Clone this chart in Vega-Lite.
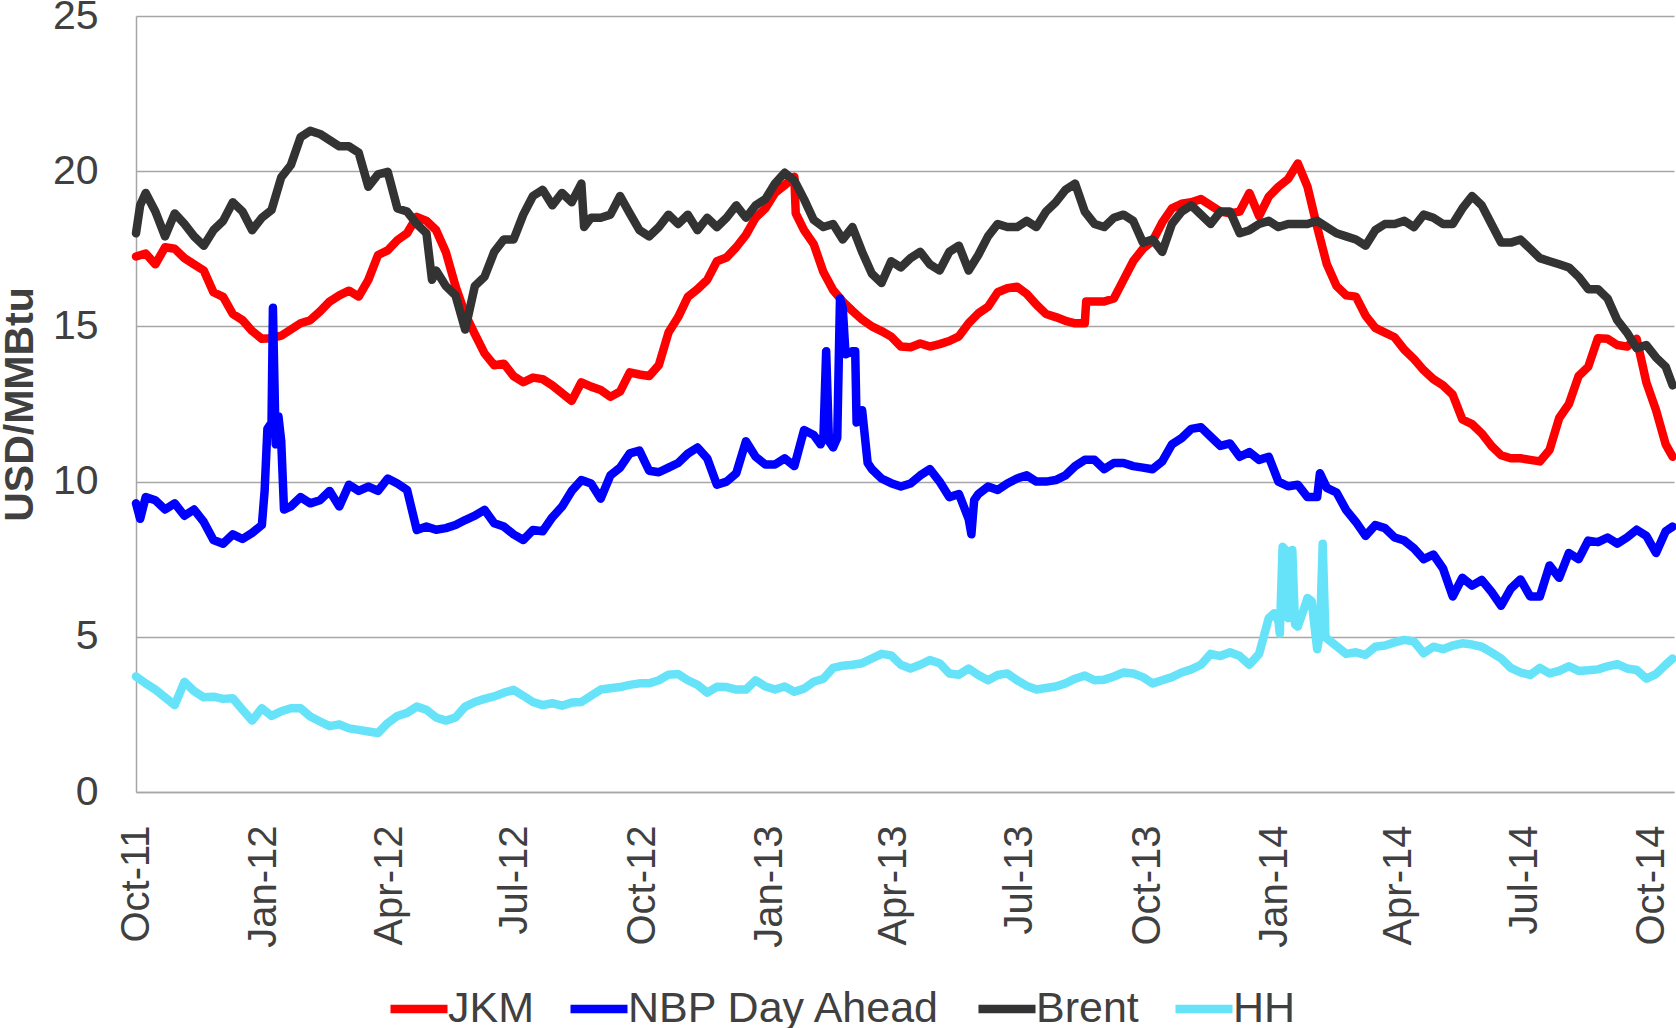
{
"$schema": "https://vega.github.io/schema/vega-lite/v6.json",
"width": 1538, "height": 776,
"autosize": "none",
"padding": {"left": 136, "top": 16, "right": 2, "bottom": 236},
"background": "white",
"config": {"view": {"stroke": null}, "font": "Liberation Sans"},
"data": {"values": [
{"d":"2011-10-01","JKM":17.25,"NBP":9.3,"Brent":18.0,"HH":3.72},
{"d":"2011-10-04","NBP":8.8,"Brent":18.9},
{"d":"2011-10-08","JKM":17.35,"NBP":9.5,"Brent":19.3,"HH":3.5},
{"d":"2011-10-15","JKM":17.0,"NBP":9.4,"Brent":18.7,"HH":3.3},
{"d":"2011-10-22","JKM":17.55,"NBP":9.1,"Brent":17.9,"HH":3.05},
{"d":"2011-10-29","JKM":17.5,"NBP":9.3,"Brent":18.64,"HH":2.8},
{"d":"2011-11-05","JKM":17.2,"NBP":8.9,"Brent":18.3,"HH":3.55},
{"d":"2011-11-12","JKM":17.0,"NBP":9.1,"Brent":17.9,"HH":3.25},
{"d":"2011-11-19","JKM":16.8,"NBP":8.7,"Brent":17.6,"HH":3.05},
{"d":"2011-11-26","JKM":16.1,"NBP":8.12,"Brent":18.1,"HH":3.07},
{"d":"2011-12-03","JKM":15.95,"NBP":8.0,"Brent":18.4,"HH":3.0},
{"d":"2011-12-10","JKM":15.4,"NBP":8.3,"Brent":19.0,"HH":3.02},
{"d":"2011-12-17","JKM":15.2,"NBP":8.15,"Brent":18.7,"HH":2.65},
{"d":"2011-12-24","JKM":14.85,"NBP":8.35,"Brent":18.1,"HH":2.3},
{"d":"2011-12-31","JKM":14.6,"NBP":8.6,"Brent":18.5,"HH":2.7},
{"d":"2012-01-02","NBP":9.7},
{"d":"2012-01-04","NBP":11.7},
{"d":"2012-01-07","JKM":14.62,"NBP":11.9,"Brent":18.75,"HH":2.45},
{"d":"2012-01-08","NBP":15.6},
{"d":"2012-01-10","NBP":11.2},
{"d":"2012-01-12","NBP":12.1},
{"d":"2012-01-14","JKM":14.7,"NBP":11.3,"Brent":19.8,"HH":2.6},
{"d":"2012-01-16","NBP":9.1},
{"d":"2012-01-21","JKM":14.9,"NBP":9.2,"Brent":20.2,"HH":2.7},
{"d":"2012-01-28","JKM":15.1,"NBP":9.5,"Brent":21.1,"HH":2.7},
{"d":"2012-02-04","JKM":15.2,"NBP":9.3,"Brent":21.3,"HH":2.43},
{"d":"2012-02-11","JKM":15.48,"NBP":9.4,"Brent":21.2,"HH":2.27},
{"d":"2012-02-18","JKM":15.8,"NBP":9.7,"Brent":21.0,"HH":2.12},
{"d":"2012-02-25","JKM":16.0,"NBP":9.2,"Brent":20.8,"HH":2.18},
{"d":"2012-03-03","JKM":16.15,"NBP":9.9,"Brent":20.8,"HH":2.05},
{"d":"2012-03-10","JKM":15.96,"NBP":9.7,"Brent":20.6,"HH":2.0},
{"d":"2012-03-17","JKM":16.5,"NBP":9.84,"Brent":19.5,"HH":1.95},
{"d":"2012-03-24","JKM":17.3,"NBP":9.7,"Brent":19.9,"HH":1.9},
{"d":"2012-03-31","JKM":17.45,"NBP":10.1,"Brent":19.98,"HH":2.22},
{"d":"2012-04-07","JKM":17.78,"NBP":9.94,"Brent":18.8,"HH":2.45},
{"d":"2012-04-14","JKM":18.0,"NBP":9.73,"Brent":18.7,"HH":2.55},
{"d":"2012-04-21","JKM":18.53,"NBP":8.44,"Brent":18.3,"HH":2.75},
{"d":"2012-04-28","JKM":18.4,"NBP":8.55,"Brent":18.0,"HH":2.65},
{"d":"2012-05-02","Brent":16.5},
{"d":"2012-05-05","JKM":18.1,"NBP":8.45,"Brent":16.8,"HH":2.4},
{"d":"2012-05-12","JKM":17.4,"NBP":8.5,"Brent":16.3,"HH":2.3},
{"d":"2012-05-19","JKM":16.3,"NBP":8.6,"Brent":16.0,"HH":2.4},
{"d":"2012-05-26","JKM":15.4,"NBP":8.76,"Brent":14.9,"HH":2.75},
{"d":"2012-06-02","JKM":14.75,"NBP":8.9,"Brent":16.3,"HH":2.9},
{"d":"2012-06-09","JKM":14.13,"NBP":9.09,"Brent":16.6,"HH":3.0},
{"d":"2012-06-16","JKM":13.75,"NBP":8.66,"Brent":17.4,"HH":3.08},
{"d":"2012-06-23","JKM":13.8,"NBP":8.55,"Brent":17.8,"HH":3.2},
{"d":"2012-06-30","JKM":13.4,"NBP":8.3,"Brent":17.8,"HH":3.29},
{"d":"2012-07-07","JKM":13.2,"NBP":8.12,"Brent":18.6,"HH":3.1},
{"d":"2012-07-14","JKM":13.35,"NBP":8.44,"Brent":19.2,"HH":2.9},
{"d":"2012-07-21","JKM":13.3,"NBP":8.4,"Brent":19.4,"HH":2.8},
{"d":"2012-07-28","JKM":13.1,"NBP":8.85,"Brent":18.9,"HH":2.86},
{"d":"2012-08-04","JKM":12.85,"NBP":9.19,"Brent":19.3,"HH":2.78},
{"d":"2012-08-11","JKM":12.6,"NBP":9.7,"Brent":19.0,"HH":2.88},
{"d":"2012-08-18","JKM":13.2,"NBP":10.05,"Brent":19.6,"HH":2.9},
{"d":"2012-08-20","Brent":18.2},
{"d":"2012-08-25","JKM":13.06,"NBP":9.94,"Brent":18.5,"HH":3.1},
{"d":"2012-09-01","JKM":12.95,"NBP":9.45,"Brent":18.5,"HH":3.3},
{"d":"2012-09-08","JKM":12.73,"NBP":10.2,"Brent":18.6,"HH":3.34},
{"d":"2012-09-15","JKM":12.9,"NBP":10.45,"Brent":19.2,"HH":3.38},
{"d":"2012-09-22","JKM":13.52,"NBP":10.91,"Brent":18.64,"HH":3.45},
{"d":"2012-09-29","JKM":13.45,"NBP":11.0,"Brent":18.1,"HH":3.5},
{"d":"2012-10-06","JKM":13.4,"NBP":10.35,"Brent":17.9,"HH":3.5},
{"d":"2012-10-13","JKM":13.75,"NBP":10.3,"Brent":18.2,"HH":3.6},
{"d":"2012-10-20","JKM":14.8,"NBP":10.45,"Brent":18.6,"HH":3.78},
{"d":"2012-10-27","JKM":15.3,"NBP":10.6,"Brent":18.3,"HH":3.8},
{"d":"2012-11-03","JKM":15.95,"NBP":10.9,"Brent":18.6,"HH":3.6},
{"d":"2012-11-10","JKM":16.2,"NBP":11.1,"Brent":18.1,"HH":3.45},
{"d":"2012-11-17","JKM":16.5,"NBP":10.75,"Brent":18.5,"HH":3.2},
{"d":"2012-11-24","JKM":17.1,"NBP":9.9,"Brent":18.2,"HH":3.39},
{"d":"2012-12-01","JKM":17.22,"NBP":10.0,"Brent":18.5,"HH":3.38},
{"d":"2012-12-08","JKM":17.55,"NBP":10.27,"Brent":18.9,"HH":3.3},
{"d":"2012-12-15","JKM":17.95,"NBP":11.3,"Brent":18.5,"HH":3.3},
{"d":"2012-12-22","JKM":18.5,"NBP":10.8,"Brent":18.9,"HH":3.6},
{"d":"2012-12-29","JKM":18.8,"NBP":10.55,"Brent":19.1,"HH":3.4},
{"d":"2013-01-05","JKM":19.3,"NBP":10.55,"Brent":19.6,"HH":3.3},
{"d":"2013-01-12","JKM":19.55,"NBP":10.75,"Brent":19.95,"HH":3.4},
{"d":"2013-01-19","JKM":19.82,"NBP":10.5,"Brent":19.7,"HH":3.23},
{"d":"2013-01-20","JKM":18.64},
{"d":"2013-01-26","JKM":18.1,"NBP":11.66,"Brent":19.1,"HH":3.33},
{"d":"2013-02-02","JKM":17.65,"NBP":11.5,"Brent":18.43,"HH":3.55},
{"d":"2013-02-07","NBP":11.2},
{"d":"2013-02-09","JKM":16.75,"NBP":11.4,"Brent":18.2,"HH":3.65},
{"d":"2013-02-11","NBP":14.2},
{"d":"2013-02-13","NBP":11.3},
{"d":"2013-02-16","JKM":16.17,"NBP":11.1,"Brent":18.3,"HH":4.0},
{"d":"2013-02-19","NBP":11.4},
{"d":"2013-02-21","NBP":15.9},
{"d":"2013-02-23","JKM":15.8,"NBP":15.6,"Brent":17.8,"HH":4.07},
{"d":"2013-02-25","NBP":14.1},
{"d":"2013-03-02","JKM":15.5,"NBP":14.2,"Brent":18.2,"HH":4.1},
{"d":"2013-03-04","NBP":14.2},
{"d":"2013-03-05","NBP":11.9},
{"d":"2013-03-09","JKM":15.22,"NBP":12.3,"Brent":17.4,"HH":4.15},
{"d":"2013-03-13","NBP":10.6},
{"d":"2013-03-16","JKM":15.0,"NBP":10.4,"Brent":16.7,"HH":4.3},
{"d":"2013-03-23","JKM":14.85,"NBP":10.1,"Brent":16.4,"HH":4.45},
{"d":"2013-03-30","JKM":14.67,"NBP":9.95,"Brent":17.1,"HH":4.4},
{"d":"2013-04-06","JKM":14.35,"NBP":9.84,"Brent":16.9,"HH":4.1},
{"d":"2013-04-13","JKM":14.33,"NBP":9.94,"Brent":17.2,"HH":3.98},
{"d":"2013-04-20","JKM":14.45,"NBP":10.2,"Brent":17.4,"HH":4.1},
{"d":"2013-04-27","JKM":14.35,"NBP":10.4,"Brent":17.0,"HH":4.25},
{"d":"2013-05-04","JKM":14.43,"NBP":10.0,"Brent":16.8,"HH":4.15},
{"d":"2013-05-11","JKM":14.53,"NBP":9.5,"Brent":17.4,"HH":3.82},
{"d":"2013-05-18","JKM":14.68,"NBP":9.6,"Brent":17.6,"HH":3.78},
{"d":"2013-05-25","JKM":15.1,"NBP":8.8,"Brent":16.8,"HH":3.98},
{"d":"2013-05-27","NBP":8.3},
{"d":"2013-05-29","NBP":9.4},
{"d":"2013-06-01","JKM":15.42,"NBP":9.6,"Brent":17.3,"HH":3.77},
{"d":"2013-06-08","JKM":15.63,"NBP":9.84,"Brent":17.9,"HH":3.6},
{"d":"2013-06-15","JKM":16.1,"NBP":9.73,"Brent":18.3,"HH":3.77},
{"d":"2013-06-22","JKM":16.23,"NBP":9.94,"Brent":18.2,"HH":3.82},
{"d":"2013-06-29","JKM":16.28,"NBP":10.1,"Brent":18.2,"HH":3.6},
{"d":"2013-07-06","JKM":16.05,"NBP":10.2,"Brent":18.4,"HH":3.42},
{"d":"2013-07-13","JKM":15.7,"NBP":10.0,"Brent":18.2,"HH":3.3},
{"d":"2013-07-20","JKM":15.4,"NBP":10.0,"Brent":18.7,"HH":3.35},
{"d":"2013-07-27","JKM":15.3,"NBP":10.05,"Brent":19.0,"HH":3.4},
{"d":"2013-08-03","JKM":15.18,"NBP":10.2,"Brent":19.4,"HH":3.5},
{"d":"2013-08-10","JKM":15.1,"NBP":10.5,"Brent":19.6,"HH":3.65},
{"d":"2013-08-17","JKM":15.1,"NBP":10.7,"Brent":18.7,"HH":3.75},
{"d":"2013-08-18","JKM":15.8},
{"d":"2013-08-24","JKM":15.8,"NBP":10.7,"Brent":18.3,"HH":3.6},
{"d":"2013-08-31","JKM":15.8,"NBP":10.4,"Brent":18.2,"HH":3.62},
{"d":"2013-09-07","JKM":15.9,"NBP":10.6,"Brent":18.5,"HH":3.72},
{"d":"2013-09-14","JKM":16.5,"NBP":10.6,"Brent":18.6,"HH":3.85},
{"d":"2013-09-21","JKM":17.1,"NBP":10.5,"Brent":18.4,"HH":3.82},
{"d":"2013-09-28","JKM":17.5,"NBP":10.45,"Brent":17.7,"HH":3.7},
{"d":"2013-10-05","JKM":17.75,"NBP":10.4,"Brent":17.8,"HH":3.5},
{"d":"2013-10-12","JKM":18.35,"NBP":10.65,"Brent":17.4,"HH":3.6},
{"d":"2013-10-19","JKM":18.8,"NBP":11.2,"Brent":18.3,"HH":3.7},
{"d":"2013-10-26","JKM":18.95,"NBP":11.4,"Brent":18.7,"HH":3.85},
{"d":"2013-11-02","JKM":19.0,"NBP":11.7,"Brent":18.9,"HH":3.95},
{"d":"2013-11-09","JKM":19.1,"NBP":11.75,"Brent":18.6,"HH":4.1},
{"d":"2013-11-16","JKM":18.9,"NBP":11.45,"Brent":18.3,"HH":4.45},
{"d":"2013-11-23","JKM":18.7,"NBP":11.15,"Brent":18.7,"HH":4.38},
{"d":"2013-11-30","JKM":18.64,"NBP":11.23,"Brent":18.7,"HH":4.5},
{"d":"2013-12-07","JKM":18.7,"NBP":10.8,"Brent":18.0,"HH":4.38},
{"d":"2013-12-14","JKM":19.3,"NBP":10.95,"Brent":18.1,"HH":4.1},
{"d":"2013-12-21","JKM":18.55,"NBP":10.7,"Brent":18.3,"HH":4.45},
{"d":"2013-12-28","JKM":19.18,"NBP":10.8,"Brent":18.4,"HH":5.6},
{"d":"2014-01-01","HH":5.76},
{"d":"2014-01-04","JKM":19.5,"NBP":10.0,"Brent":18.2,"HH":5.5},
{"d":"2014-01-05","HH":5.1},
{"d":"2014-01-07","HH":7.9},
{"d":"2014-01-09","HH":7.8},
{"d":"2014-01-10","HH":5.8},
{"d":"2014-01-11","JKM":19.75,"NBP":9.85,"Brent":18.3,"HH":5.6},
{"d":"2014-01-14","HH":7.8},
{"d":"2014-01-16","HH":5.4},
{"d":"2014-01-18","JKM":20.25,"NBP":9.9,"Brent":18.3,"HH":5.33},
{"d":"2014-01-23","HH":5.97},
{"d":"2014-01-25","JKM":19.5,"NBP":9.5,"Brent":18.3,"HH":6.25},
{"d":"2014-01-28","HH":6.15},
{"d":"2014-02-01","JKM":18.2,"NBP":9.5,"Brent":18.4,"HH":4.6},
{"d":"2014-02-03","NBP":10.27,"HH":5.1},
{"d":"2014-02-05","HH":8.0},
{"d":"2014-02-07","HH":5.0},
{"d":"2014-02-08","JKM":17.0,"NBP":9.8,"Brent":18.2,"HH":4.95},
{"d":"2014-02-15","JKM":16.3,"NBP":9.65,"Brent":18.0,"HH":4.7},
{"d":"2014-02-22","JKM":16.0,"NBP":9.08,"Brent":17.9,"HH":4.45},
{"d":"2014-03-01","JKM":15.96,"NBP":8.7,"Brent":17.8,"HH":4.5},
{"d":"2014-03-08","JKM":15.35,"NBP":8.25,"Brent":17.6,"HH":4.42},
{"d":"2014-03-15","JKM":14.95,"NBP":8.6,"Brent":18.1,"HH":4.68},
{"d":"2014-03-22","JKM":14.8,"NBP":8.5,"Brent":18.3,"HH":4.72},
{"d":"2014-03-29","JKM":14.65,"NBP":8.2,"Brent":18.3,"HH":4.82},
{"d":"2014-04-05","JKM":14.25,"NBP":8.1,"Brent":18.4,"HH":4.9},
{"d":"2014-04-12","JKM":13.95,"NBP":7.85,"Brent":18.2,"HH":4.85},
{"d":"2014-04-19","JKM":13.59,"NBP":7.5,"Brent":18.6,"HH":4.47},
{"d":"2014-04-26","JKM":13.3,"NBP":7.65,"Brent":18.5,"HH":4.68},
{"d":"2014-05-03","JKM":13.1,"NBP":7.2,"Brent":18.3,"HH":4.6},
{"d":"2014-05-10","JKM":12.8,"NBP":6.3,"Brent":18.3,"HH":4.72},
{"d":"2014-05-17","JKM":12.0,"NBP":6.9,"Brent":18.8,"HH":4.79},
{"d":"2014-05-24","JKM":11.85,"NBP":6.65,"Brent":19.2,"HH":4.75},
{"d":"2014-05-31","JKM":11.55,"NBP":6.83,"Brent":18.9,"HH":4.68},
{"d":"2014-06-07","JKM":11.15,"NBP":6.45,"Brent":18.3,"HH":4.5},
{"d":"2014-06-14","JKM":10.85,"NBP":6.0,"Brent":17.7,"HH":4.3},
{"d":"2014-06-21","JKM":10.75,"NBP":6.55,"Brent":17.7,"HH":4.0},
{"d":"2014-06-28","JKM":10.75,"NBP":6.85,"Brent":17.8,"HH":3.85},
{"d":"2014-07-05","JKM":10.7,"NBP":6.3,"Brent":17.5,"HH":3.77},
{"d":"2014-07-12","JKM":10.65,"NBP":6.3,"Brent":17.2,"HH":4.0},
{"d":"2014-07-19","JKM":11.02,"NBP":7.3,"Brent":17.1,"HH":3.82},
{"d":"2014-07-26","JKM":12.05,"NBP":6.9,"Brent":17.0,"HH":3.9},
{"d":"2014-08-02","JKM":12.5,"NBP":7.7,"Brent":16.9,"HH":4.05},
{"d":"2014-08-09","JKM":13.4,"NBP":7.5,"Brent":16.6,"HH":3.9},
{"d":"2014-08-16","JKM":13.7,"NBP":8.1,"Brent":16.2,"HH":3.92},
{"d":"2014-08-23","JKM":14.62,"NBP":8.05,"Brent":16.2,"HH":3.95},
{"d":"2014-08-30","JKM":14.6,"NBP":8.2,"Brent":15.9,"HH":4.05},
{"d":"2014-09-06","JKM":14.4,"NBP":8.0,"Brent":15.2,"HH":4.12},
{"d":"2014-09-13","JKM":14.35,"NBP":8.2,"Brent":14.8,"HH":3.98},
{"d":"2014-09-20","JKM":14.6,"NBP":8.45,"Brent":14.3,"HH":3.93},
{"d":"2014-09-27","JKM":13.2,"NBP":8.25,"Brent":14.4,"HH":3.65},
{"d":"2014-10-04","JKM":12.3,"NBP":7.7,"Brent":14.0,"HH":3.8},
{"d":"2014-10-11","JKM":11.2,"NBP":8.4,"Brent":13.7,"HH":4.1},
{"d":"2014-10-16","JKM":10.8,"NBP":8.55,"Brent":13.1,"HH":4.3}
]},
"transform": [
  {"fold": ["JKM", "NBP", "Brent", "HH"], "as": ["series", "value"]},
  {"filter": "isValid(datum.value)"}
],
"mark": {"type": "line", "strokeWidth": 8.5, "strokeCap": "round", "strokeJoin": "round", "invalid": "filter"},
"encoding": {
  "x": {
    "field": "d", "type": "temporal",
    "scale": {"type": "utc", "domain": [{"year": 2011, "month": 10, "date": 1, "utc": true}, {"year": 2014, "month": 10, "date": 17, "utc": true}]},
    "axis": {
      "title": null,
      "values": [
        {"year": 2011, "month": 10, "date": 1, "utc": true},
        {"year": 2012, "month": 1, "date": 1, "utc": true},
        {"year": 2012, "month": 4, "date": 1, "utc": true},
        {"year": 2012, "month": 7, "date": 1, "utc": true},
        {"year": 2012, "month": 10, "date": 1, "utc": true},
        {"year": 2013, "month": 1, "date": 1, "utc": true},
        {"year": 2013, "month": 4, "date": 1, "utc": true},
        {"year": 2013, "month": 7, "date": 1, "utc": true},
        {"year": 2013, "month": 10, "date": 1, "utc": true},
        {"year": 2014, "month": 1, "date": 1, "utc": true},
        {"year": 2014, "month": 4, "date": 1, "utc": true},
        {"year": 2014, "month": 7, "date": 1, "utc": true},
        {"year": 2014, "month": 10, "date": 1, "utc": true}
      ],
      "labelExpr": "utcFormat(datum.value, '%b-%y')",
      "labelAngle": -90, "labelFontSize": 40, "labelColor": "#404040", "labelPadding": 33,
      "labelOverlap": false, "labelFlush": false, "labelBound": false,
      "ticks": false, "grid": false,
      "domainColor": "#A6A6A6", "domainWidth": 1.5
    }
  },
  "y": {
    "field": "value", "type": "quantitative",
    "scale": {"domain": [0, 25], "nice": false},
    "axis": {
      "values": [0, 5, 10, 15, 20, 25],
      "labelFontSize": 41, "labelColor": "#404040", "labelPadding": 38,
      "labelFlush": false, "labelOverlap": false,
      "ticks": false, "grid": true, "gridColor": "#A6A6A6", "gridWidth": 1.5,
      "domainColor": "#A6A6A6", "domainWidth": 1.5,
      "title": "USD/MMBtu", "titleFontSize": 41, "titleFontWeight": "bold", "titleColor": "#404040",
      "titleAngle": -90, "titleX": -116, "titleY": 388, "titleAlign": "center", "titleBaseline": "middle"
    }
  },
  "color": {
    "field": "series", "type": "nominal",
    "scale": {"domain": ["JKM", "NBP", "Brent", "HH"], "range": ["#FF0000", "#0000FF", "#333333", "#66E3F9"]},
    "legend": {
      "orient": "none", "legendX": 250, "legendY": 960, "direction": "horizontal", "columns": 4,
      "title": null, "symbolType": "stroke", "symbolSize": 3249, "symbolStrokeWidth": 8.5,
      "labelFontSize": 43, "labelColor": "#404040", "labelOffset": -4, "columnPadding": 19, "labelLimit": 0,
      "labelExpr": "datum.label == 'NBP' ? 'NBP Day Ahead' : datum.label"
    }
  }
}
}
